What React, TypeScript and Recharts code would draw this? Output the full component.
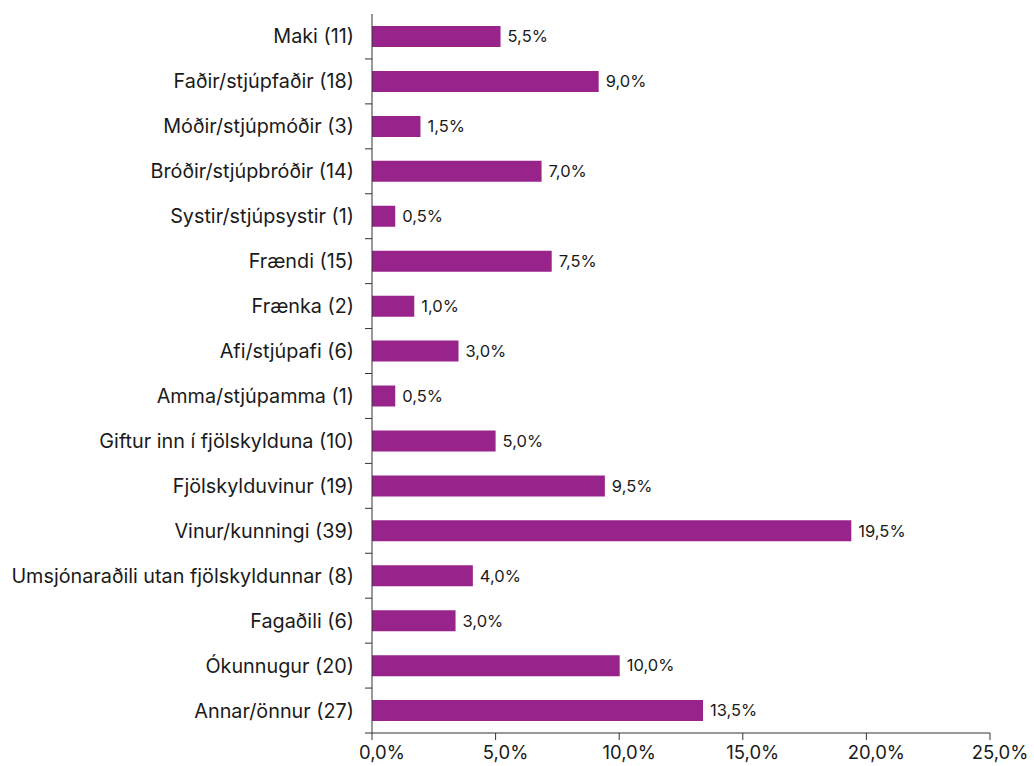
import { BarChart, Bar, XAxis, YAxis, LabelList } from "recharts";

const CATEGORIES = [
  "Maki (11)",
  "Faðir/stjúpfaðir (18)",
  "Móðir/stjúpmóðir (3)",
  "Bróðir/stjúpbróðir (14)",
  "Systir/stjúpsystir (1)",
  "Frændi (15)",
  "Frænka (2)",
  "Afi/stjúpafi (6)",
  "Amma/stjúpamma (1)",
  "Giftur inn í fjölskylduna (10)",
  "Fjölskylduvinur (19)",
  "Vinur/kunningi (39)",
  "Umsjónaraðili utan fjölskyldunnar (8)",
  "Fagaðili (6)",
  "Ókunnugur (20)",
  "Annar/önnur (27)",
];

// bar lengths as drawn in the picture (percent)
const BAR_VALUES = [5.2, 9.17, 1.96, 6.86, 0.94, 7.27, 1.71, 3.5, 0.94, 5.0, 9.42, 19.39, 4.08, 3.38, 10.02, 13.39];

// value labels as printed next to each bar
const VALUE_LABELS = [
  "5,5%", "9,0%", "1,5%", "7,0%", "0,5%", "7,5%", "1,0%", "3,0%",
  "0,5%", "5,0%", "9,5%", "19,5%", "4,0%", "3,0%", "10,0%", "13,5%",
];

const X_TICKS = [0, 5, 10, 15, 20, 25];

const data = CATEGORIES.map((name, i) => ({ name, value: BAR_VALUES[i], label: VALUE_LABELS[i] }));

const FONT = "Inter, 'Noto Sans', sans-serif";
const TEXT = "#1a1a1a";
const AXIS = "#333333";
const PURPLE = "#98238b";

const W = 1034;
const H = 766;
const TOP = 14;
const X_AXIS_H = 33;
const BAND = (H - TOP - X_AXIS_H) / CATEGORIES.length;
const TICK_SIZE = 7;
const TICK_MARGIN = 11;

// category label + a tick mark on the boundary below each category
const CategoryTick = ({ x, y, payload }: any) => {
  const axisX = x + TICK_SIZE + TICK_MARGIN;
  return (
    <g>
      <text x={x} y={y} dy="0.355em" textAnchor="end" fill={TEXT} fontSize={19.8} fontFamily={FONT}>
        {payload.value}
      </text>
      <line x1={axisX - TICK_SIZE} x2={axisX} y1={y + BAND / 2} y2={y + BAND / 2} stroke={AXIS} />
    </g>
  );
};

export default function App() {
  return (
    <div style={{ width: W, height: H, background: "#fff", fontFamily: FONT }}>
      <style>{`body { margin: 0; }`}</style>
      <BarChart
        width={W}
        height={H}
        data={data}
        layout="vertical"
        margin={{ top: TOP, right: 44, bottom: 0, left: 0 }}
      >
        <XAxis
          type="number"
          domain={[0, 25]}
          ticks={X_TICKS}
          tickFormatter={(v: number) => v.toFixed(1).replace(".", ",") + "%"}
          tick={{ fill: TEXT, fontSize: 18.5, fontFamily: FONT, dx: 10 }}
          tickSize={TICK_SIZE}
          tickMargin={6}
          height={X_AXIS_H}
          stroke={AXIS}
          interval={0}
        />
        <YAxis
          type="category"
          dataKey="name"
          width={372}
          tickLine={false}
          tickSize={TICK_SIZE}
          tickMargin={TICK_MARGIN}
          tick={<CategoryTick />}
          stroke={AXIS}
          interval={0}
        />
        <Bar dataKey="value" fill={PURPLE} barSize={21} isAnimationActive={false}>
          <LabelList dataKey="label" position="right" offset={7} fill={TEXT} fontSize={16.5} fontFamily={FONT} />
        </Bar>
      </BarChart>
    </div>
  );
}
